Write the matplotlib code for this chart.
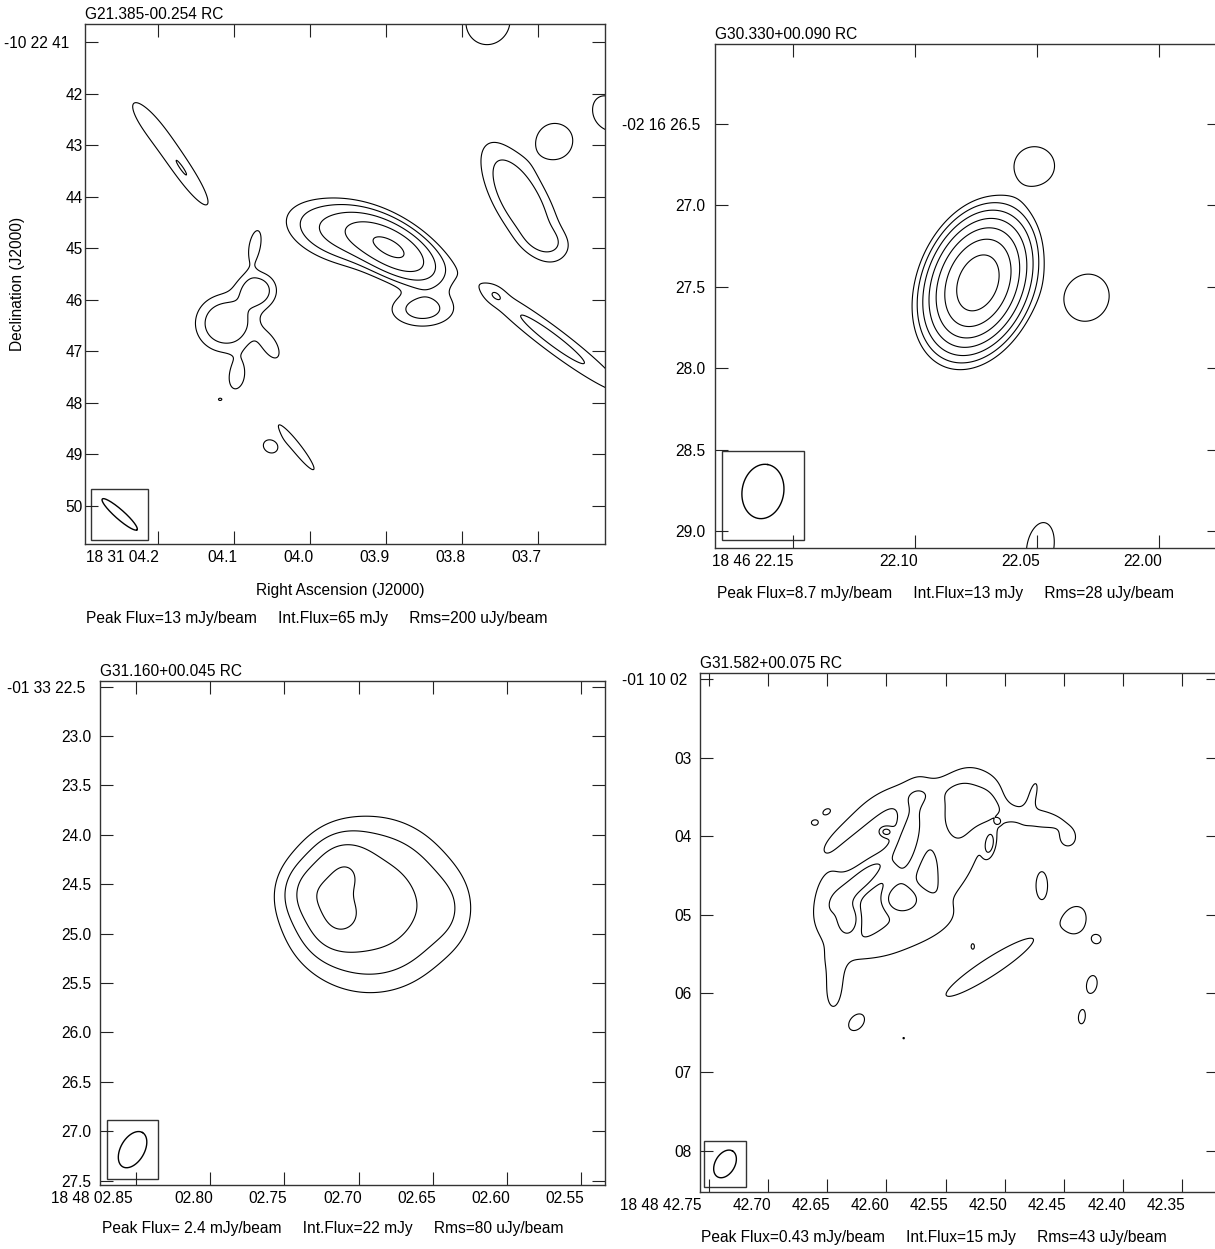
import numpy as np
import matplotlib
matplotlib.use("Agg")
import matplotlib.pyplot as plt
from matplotlib.patches import Rectangle
from matplotlib.transforms import ScaledTranslation

plt.rcParams['font.family'] = ['Liberation Sans', 'DejaVu Sans']
plt.rcParams['font.size'] = 11.2

# ---------------- G21.385-00.254 (RA 18 31 xx.x s, Dec -10 22 xx ") ----------------
g21_ra = [3.8915, 3.9529, 3.8523, 4.2117, 4.1620, 4.0706, 4.1111, 4.0732, 4.0523, 4.0967,
          4.1189, 4.0183, 4.0523, 3.7230, 3.6889, 3.6784, 3.6078, 3.7660, 3.6810, 3.7568]
g21_dec = [45.021, 44.711, 46.186, 42.575, 43.604, 45.817, 46.458, 44.963, 46.905, 47.487,
           47.934, 48.866, 48.847, 44.070, 44.866, 42.924, 42.38, 40.594, 46.769, 45.895]
g21_smaj = [0.541, 0.650, 0.420, 0.695, 0.618, 0.251, 0.367, 0.309, 0.270, 0.270,
            0.058, 0.540, 0.174, 0.772, 0.309, 0.320, 0.40, 0.42, 1.255, 0.154]
g21_smin = [0.251, 0.328, 0.232, 0.212, 0.135, 0.232, 0.347, 0.116, 0.135, 0.154,
            0.039, 0.087, 0.145, 0.310, 0.193, 0.320, 0.30, 0.45, 0.174, 0.116]
g21_pa = [-30, -15, 0, -52, -55, 0, 0, 80, -60, 80, 0, -52, -30, -60, -15, 0, -60, -20, -37, -37]
g21_amp = [10.0, 3.2, 1.6, 0.75, 1.05, 1.9, 2.2, 0.9, 0.9, 0.9, 0.65, 1.0, 0.85, 2.3, 0.7,
           1.08, 0.9, 1.0, 1.45, 0.5]
g21_levels = [0.6, 1.2, 2.4, 4.8, 9.6]
g21_xticks = [4.2, 4.1, 4.0, 3.9, 3.8, 3.7]
g21_xlabels = ['18 31 04.2', '04.1', '04.0', '03.9', '03.8', '03.7']
g21_yticks = [41, 42, 43, 44, 45, 46, 47, 48, 49, 50]
g21_ylabels = ['-10 22 41', '42', '43', '44', '45', '46', '47', '48', '49', '50']
g21_beam = [4.2510, 50.167, 0.45, 0.09, -41.5]

# ---------------- G30.330+00.090 (RA 18 46 xx.xx s, Dec -02 16 xx.x ") ----------------
g30_ra = [22.0743, 22.0511, 22.0297, 22.0487]
g30_dec = [27.476, 26.757, 27.567, 29.101]
g30_smaj = [0.182, 0.122, 0.146, 0.183]
g30_smin = [0.123, 0.116, 0.134, 0.098]
g30_pa = [68, 0, 60, 80]
g30_amp = [8.7, 0.14, 0.14, 0.12]
g30_levels = [0.084, 0.168, 0.336, 0.672, 1.344, 2.688, 5.376]
g30_xticks = [22.15, 22.10, 22.05, 22.00]
g30_xlabels = ['18 46 22.15', '22.10', '22.05', '22.00']
g30_yticks = [26.5, 27.0, 27.5, 28.0, 28.5, 29.0]
g30_ylabels = ['-02 16 26.5', '27.0', '27.5', '28.0', '28.5', '29.0']
g30_beam = [22.1625, 28.757, 0.168, 0.128, 80]

# ---------------- G31.160+00.045 (RA 18 48 xx.xx s, Dec -01 33 xx.x ") ----------------
g31a_ra = [2.6921, 2.7102, 2.7284, 2.7149, 2.6398]
g31a_dec = [24.707, 24.333, 24.586, 24.879, 24.758]
g31a_smaj = [0.475, 0.182, 0.182, 0.182, 0.25]
g31a_smin = [0.465, 0.182, 0.182, 0.182, 0.18]
g31a_pa = [0, 0, 0, 0, 90]
g31a_amp = [1.5, 0.9, 0.9, 0.9, 0.2]
g31a_levels = [0.24, 0.48, 0.96, 1.92]
g31a_xticks = [2.85, 2.80, 2.75, 2.70, 2.65, 2.60, 2.55]
g31a_xlabels = ['18 48 02.85', '02.80', '02.75', '02.70', '02.65', '02.60', '02.55']
g31a_yticks = [22.5, 23.0, 23.5, 24.0, 24.5, 25.0, 25.5, 26.0, 26.5, 27.0, 27.5]
g31a_ylabels = ['-01 33 22.5', '23.0', '23.5', '24.0', '24.5', '25.0', '25.5', '26.0', '26.5', '27.0', '27.5']
g31a_beam = [2.8525, 27.187, 0.20, 0.12, 60]

# ---------------- G31.582+00.075 (RA 18 48 xx.xx s, Dec -01 10 0x ") ----------------
g31b_ra = [42.5380, 42.5820, 42.6185, 42.5863, 42.6312, 42.6007, 42.5127, 42.5059,
           42.6481, 42.6439, 42.5931, 42.5423, 42.5761, 42.4746, 42.4763, 42.5127, 42.6227,
           42.4466, 42.4686, 42.4399, 42.4221, 42.4263, 42.4348, 42.6252, 42.6608, 42.6506,
           42.5127, 42.5270, 42.5854]
g31b_dec = [3.6626, 4.0687, 4.5255, 4.8047, 5.0712, 3.9418, 4.1067, 3.8149,
            4.8682, 5.9468, 5.3123, 4.4875, 3.4722, 3.7641, 3.4722, 3.5991, 3.789,
            4.0433, 4.6270, 5.0839, 5.3123, 5.8834, 6.3022, 6.3656, 3.8276, 3.6880,
            5.6677, 5.4012, 6.5687]
g31b_smaj = [0.400, 0.503, 0.314, 0.176, 0.151, 0.063, 0.113, 0.025,
             0.440, 0.226, 0.629, 0.440, 0.450, 0.377, 0.176, 0.226, 0.440,
             0.101, 0.214, 0.176, 0.075, 0.151, 0.126, 0.160, 0.063, 0.075,
             0.700, 0.063, 0.019]
g31b_smin = [0.250, 0.140, 0.113, 0.126, 0.101, 0.050, 0.050, 0.025,
             0.200, 0.088, 0.176, 0.226, 0.126, 0.113, 0.050, 0.151, 0.100,
             0.101, 0.088, 0.138, 0.075, 0.088, 0.063, 0.110, 0.050, 0.050,
             0.120, 0.038, 0.019]
g31b_pa = [70, 79, 44, 0, 80, 0, 80, 0,
           85, 85, 20, 60, 12, -10, 75, 80, 40,
           0, 90, 80, 0, 80, 85, 50, 0, 30,
           33, 90, 0]
g31b_amp = [0.31, 0.30, 0.32, 0.30, 0.28, 0.27, 0.27, 0.265,
            0.20, 0.20, 0.19, 0.14, 0.11, 0.20, 0.18, 0.16, 0.20,
            0.17, 0.18, 0.18, 0.16, 0.17, 0.16, 0.17, 0.15, 0.15,
            0.20, 0.14, 0.135]
g31b_levels = [0.129, 0.258]
g31b_xticks = [42.75, 42.70, 42.65, 42.60, 42.55, 42.50, 42.45, 42.40, 42.35]
g31b_xlabels = ['18 48 42.75', '42.70', '42.65', '42.60', '42.55', '42.50', '42.45', '42.40', '42.35']
g31b_yticks = [2, 3, 4, 5, 6, 7, 8]
g31b_ylabels = ['-01 10 02', '03', '04', '05', '06', '07', '08']
g31b_beam = [42.7365, 8.168, 0.19, 0.125, 60]

footer_text = {
    'G21.385-00.254 RC': 'Peak Flux=13 mJy/beam     Int.Flux=65 mJy     Rms=200 uJy/beam',
    'G30.330+00.090 RC': 'Peak Flux=8.7 mJy/beam     Int.Flux=13 mJy     Rms=28 uJy/beam',
    'G31.160+00.045 RC': 'Peak Flux= 2.4 mJy/beam     Int.Flux=22 mJy     Rms=80 uJy/beam',
    'G31.582+00.075 RC': 'Peak Flux=0.43 mJy/beam     Int.Flux=15 mJy     Rms=43 uJy/beam',
}

W, H = 1215, 1249
fig = plt.figure(figsize=(W / 100, H / 100), dpi=100)


def model_map(ra, dec, c_ra, c_dec, c_maj, c_min, c_pa, c_amp, dec_deg):
    # sum of elliptical gaussian components, offsets in arcsec on the sky
    cosd = 15 * np.cos(np.radians(dec_deg))
    z = np.zeros_like(ra)
    for r0, d0, a, b, pa, amp in zip(c_ra, c_dec, c_maj, c_min, c_pa, c_amp):
        dx = -(ra - r0) * cosd
        dy = -(dec - d0)
        t = np.radians(pa)
        u = dx * np.cos(t) + dy * np.sin(t)
        v = -dx * np.sin(t) + dy * np.cos(t)
        z += amp * np.exp(-0.5 * ((u / a) ** 2 + (v / b) ** 2))
    return z


def add_panel(px, xlim, ylim, dec_deg, comps, levels, xt, xl, yt, yl, beam, box,
              title, footer, ypad, first_dy, first_dx):
    left, right, top, bottom = px
    ax = fig.add_axes([left / W, 1 - bottom / H, (right - left) / W, (bottom - top) / H])
    span = xlim[0] - xlim[1]
    ra = np.linspace(xlim[0] + 0.05 * span, xlim[1] - 0.05 * span, 800)
    de = np.linspace(ylim[1] - 0.3, ylim[0] + 0.3, 800)
    RA, DE = np.meshgrid(ra, de)
    Z = model_map(RA, DE, *comps, dec_deg)
    ax.contour(RA, DE, Z, levels=levels, colors='black', linewidths=0.8)

    # restoring beam in its box
    cosd = 15 * np.cos(np.radians(dec_deg))
    b_ra, b_dec, bmaj, bmin, bpa = beam
    t = np.linspace(0, 2 * np.pi, 200)
    th = np.radians(bpa)
    dx = bmaj * np.cos(t) * np.cos(th) - bmin * np.sin(t) * np.sin(th)
    dy = bmaj * np.cos(t) * np.sin(th) + bmin * np.sin(t) * np.cos(th)
    ax.plot(b_ra - dx / cosd, b_dec - dy, color='black', lw=1.0)
    hw, hh, ddec = box
    ax.add_patch(Rectangle((b_ra - hw / cosd, b_dec + ddec - hh), 2 * hw / cosd, 2 * hh,
                           fill=False, edgecolor='#333333', lw=1.0))

    ax.set_xlim(*xlim)
    ax.set_ylim(*ylim)
    ax.set_xticks(xt)
    ax.set_xticklabels(xl, ha='right')
    ax.set_yticks(yt)
    ax.set_yticklabels(yl)
    ax.tick_params(direction='in', length=9.4, width=0.8, top=True, right=True,
                   colors='#222222', labelcolor='black')
    ax.tick_params(axis='x', pad=4.3)
    ax.tick_params(axis='y', pad=ypad)
    for sp in ax.spines.values():
        sp.set_linewidth(1.0)
        sp.set_color('#333333')

    for i, lab in enumerate(ax.get_xticklabels()):
        off = first_dx if i == 0 else 3
        lab.set_transform(lab.get_transform() + ScaledTranslation(off / 100, 0, fig.dpi_scale_trans))
    lab = ax.get_yticklabels()[0]
    lab.set_transform(lab.get_transform() + ScaledTranslation(first_dy / 100, 0, fig.dpi_scale_trans))

    h = bottom - top
    ax.text(0, 1 + 5 / h, title, transform=ax.transAxes, ha='left', va='baseline')
    ax.text(0.003, -footer / h, footer_text[title], transform=ax.transAxes,
            ha='left', va='baseline')
    return ax


ax1 = add_panel((84.8, 605.1, 24.0, 544.3), (4.2969, 3.6118), (50.748, 40.645), -10.38,
                (g21_ra, g21_dec, g21_smaj, g21_smin, g21_pa, g21_amp), g21_levels,
                g21_xticks, g21_xlabels, g21_yticks, g21_ylabels, g21_beam, (0.55, 0.495, 0.0),
                'G21.385-00.254 RC', 79.0, 1.4, -14, 0)
ax2 = add_panel((715.4, 1219.7, 44.0, 548.3), (22.182, 21.9751), (29.106, 26.009), -2.27,
                (g30_ra, g30_dec, g30_smaj, g30_smin, g30_pa, g30_amp), g30_levels,
                g30_xticks, g30_xlabels, g30_yticks, g30_ylabels, g30_beam, (0.25, 0.276, 0.025),
                'G30.330+00.090 RC', 50.0, 7.0, -5, 0)
ax3 = add_panel((100.4, 605.1, 680.7, 1185.0), (2.8742, 2.5337), (27.545, 22.439), -1.56,
                (g31a_ra, g31a_dec, g31a_smaj, g31a_smin, g31a_pa, g31a_amp), g31a_levels,
                g31a_xticks, g31a_xlabels, g31a_yticks, g31a_ylabels, g31a_beam, (0.258, 0.30, 0.0),
                'G31.160+00.045 RC', 48.3, 6.5, -6.6, -4)
ax4 = add_panel((699.6, 1219.2, 672.7, 1192.3), (42.758, 42.3186), (8.529, 1.92), -1.17,
                (g31b_ra, g31b_dec, g31b_smaj, g31b_smin, g31b_pa, g31b_amp), g31b_levels,
                g31b_xticks, g31b_xlabels, g31b_yticks, g31b_ylabels, g31b_beam, (0.27, 0.29, 0.0),
                'G31.582+00.075 RC', 49.4, 5.6, -4.7, -8)

ax1.text(0.491, -50.7 / 520.3, 'Right Ascension (J2000)', transform=ax1.transAxes,
         ha='center', va='baseline')
fig.text(17.5 / W, 1 - 284 / H, 'Declination (J2000)', rotation=90, ha='center', va='center')

fig.savefig('out.png', dpi=100)
